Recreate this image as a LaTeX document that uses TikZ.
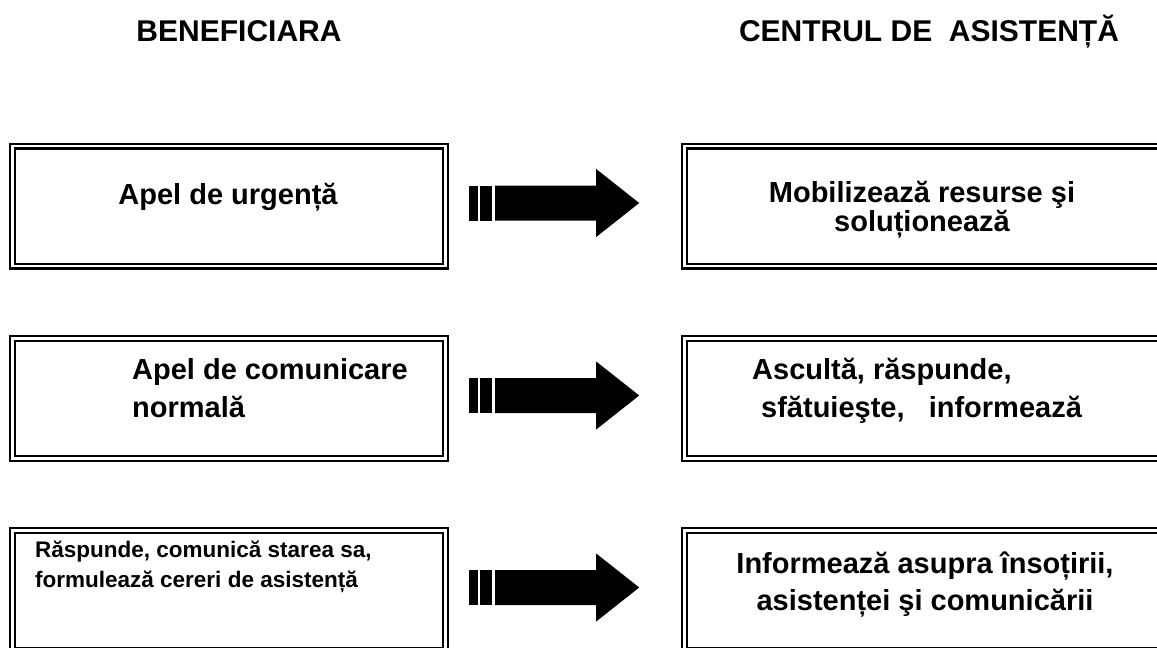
\documentclass[tikz,border=0pt]{standalone}
\usepackage{fontspec}
\setmainfont{Liberation Sans}
\usetikzlibrary{calc}

\begin{document}
\begin{tikzpicture}
    [x = 1pt, y = -1pt,
     framebox/.style = {draw, line width = 2.4pt, double, double distance = 2.2pt,
                        inner sep = 0pt, minimum height = 120pt},
     lbox/.style = {framebox, minimum width = 433pt},
     rbox/.style = {framebox, minimum width = 490pt},
     title/.style = {inner sep = 0pt, font = \bfseries\fontsize{30}{30}\selectfont},
     txt/.style = {inner sep = 0pt, font = \bfseries\fontsize{29}{#1}\selectfont},
     smalltxt/.style = {inner sep = 0pt, font = \bfseries\fontsize{22.5}{30}\selectfont}]
    \useasboundingbox (0,0) rectangle (1157,648);
    \clip (0,0) rectangle (1157,648);

    % titles
    \node[title, anchor = base] (tben) at (239,41) {BENEFICIARA};
    \node[title, anchor = base] (tcen) at (929,41) {CENTRUL DE\ \ ASISTENȚĂ};

    % boxes
    \node[lbox] (ben1) at (229,206) {};
    \node[lbox] (ben2) at (229,398.5) {};
    \node[lbox] (ben3) at (229,590.5) {};
    \node[rbox] (cen1) at (929.5,206) {};
    \node[rbox] (cen2) at (929.5,398.5) {};
    \node[rbox] (cen3) at (929.5,590.5) {};

    % texts (base = last line)
    \node[txt = 29, anchor = base] (ben1t) at (228,204) {Apel de urgență};
    \node[txt = 38, anchor = base west, align = left] (ben2t) at (132,417)
      {Apel de comunicare\\normală};
    \node[smalltxt, anchor = base west, align = left] (ben3t) at (35,587)
      {Răspunde, comunică starea sa,\\formulează cereri de asistență};
    \node[txt = 27, anchor = base, align = center] (cen1t) at (922,231)
      {Mobilizează resurse şi\\soluționează};
    \node[txt = 38, anchor = base west, align = left] (cen2t) at (752,417)
      {Ascultă, răspunde,\\\hspace*{9pt}sfătuieşte,\ \ \ informează};
    \node[txt = 37, anchor = base, align = center] (cen3t) at (925,610)
      {Informează asupra însoțirii,\\asistenței şi comunicării};

    % arrows
    \foreach \i in {1,2,3} {
      \coordinate (a\i) at ([yshift = 3pt]ben\i.east);
      \fill ([xshift = 22.5pt]a\i) ++(0,-17.5) rectangle ++(9,35);
      \fill ([xshift = 33.5pt]a\i) ++(0,-17.5) rectangle ++(12,35);
      \fill ([xshift = 48.5pt]a\i) ++(0,-17.5) -- ++(101,0) -- ++(0,-16.5)
        -- ++(43,34) -- ++(-43,34) -- ++(0,-16.5) -- ++(-101,0) -- cycle;
    }
\end{tikzpicture}
\end{document}
